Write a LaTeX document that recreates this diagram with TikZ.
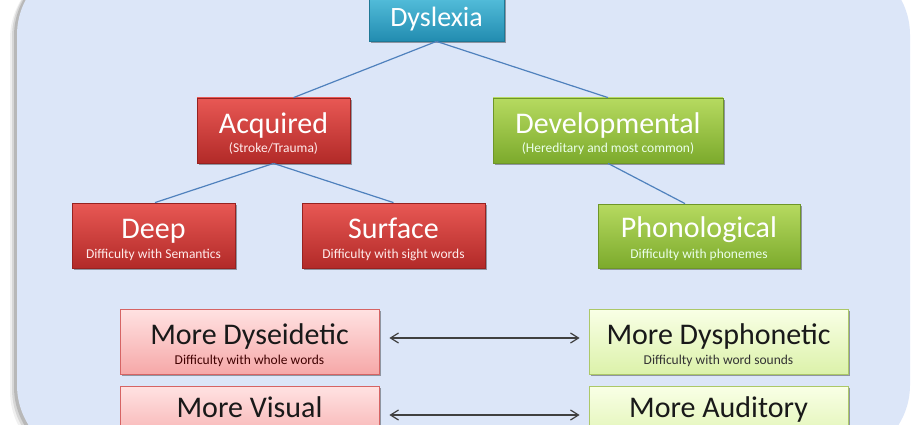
\documentclass[tikz,border=0pt]{standalone}
\usepackage{fontspec}
\setmainfont{Carlito}
\usetikzlibrary{shadows,arrows.meta}
\definecolor{bgblue}{RGB}{220,230,248}
\definecolor{linkblue}{RGB}{79,129,189}
\definecolor{tealtop}{RGB}{92,198,226}
\definecolor{tealmid}{RGB}{52,170,206}
\definecolor{tealbot}{RGB}{34,140,176}
\definecolor{tealedge}{RGB}{30,120,150}
\definecolor{redtop}{RGB}{232,88,84}
\definecolor{redmid}{RGB}{214,62,58}
\definecolor{redbot}{RGB}{178,42,40}
\definecolor{rededge}{RGB}{150,34,32}
\definecolor{grntop}{RGB}{182,218,96}
\definecolor{grnmid}{RGB}{156,200,66}
\definecolor{grnbot}{RGB}{124,170,44}
\definecolor{grnedge}{RGB}{110,150,40}
\definecolor{pinktop}{RGB}{255,226,226}
\definecolor{pinkbot}{RGB}{246,168,168}
\definecolor{pinkedge}{RGB}{214,100,100}
\definecolor{lgtop}{RGB}{249,255,230}
\definecolor{lgbot}{RGB}{220,242,170}
\definecolor{lgedge}{RGB}{172,200,104}
\definecolor{arrowgray}{RGB}{64,64,64}
\tikzset{
  boxbase/.style={rectangle, inner sep=0pt, line width=0.8pt,
    drop shadow={shadow xshift=1.5pt, shadow yshift=-2pt, opacity=0.35, fill=black}},
  tealbox/.style={boxbase, draw=tealedge, top color=tealtop, middle color=tealmid, bottom color=tealbot},
  redbox/.style={boxbase, draw=rededge, top color=redtop, middle color=redmid, bottom color=redbot},
  grnbox/.style={boxbase, draw=grnedge, top color=grntop, middle color=grnmid, bottom color=grnbot},
  pinkbox/.style={boxbase, draw=pinkedge, top color=pinktop, bottom color=pinkbot},
  lgbox/.style={boxbase, draw=lgedge, top color=lgtop, bottom color=lgbot},
  maintxt/.style={inner sep=0pt, anchor=base, font=\fontsize{30}{36}\selectfont},
  subtxt/.style={inner sep=0pt, anchor=base, font=\fontsize{13.5}{16}\selectfont},
  link/.style={draw=linkblue, line width=1.2pt},
  dbl/.style={draw=arrowgray, line width=1.2pt, {Straight Barb[length=8pt,width=10pt]}-{Straight Barb[length=8pt,width=10pt]}}
}
\begin{document}
\begin{tikzpicture}[x=1pt,y=-1pt]
\useasboundingbox (0,0) rectangle (920,425);
\clip (0,0) rectangle (920,425);
\fill[white] (0,0) rectangle (920,425);
% background panel with soft left shadow
\fill[black, opacity=0.06, rounded corners=75pt] (10,-36) rectangle (905,466);
\fill[black, opacity=0.10, rounded corners=75pt] (12,-38) rectangle (906,464);
\fill[black, opacity=0.14, rounded corners=75pt] (14,-39) rectangle (908,462);
\fill[bgblue, rounded corners=75pt] (17,-40) rectangle (910,460);

% boxes
\node[tealbox, minimum width=135pt, minimum height=51pt] (dys) at (436.5,15.5) {};
\node[redbox, minimum width=153pt, minimum height=65pt] (acq) at (273.5,130.5) {};
\node[grnbox, minimum width=230pt, minimum height=65pt] (dev) at (608,130.5) {};
\node[redbox, minimum width=163pt, minimum height=65pt] (deep) at (153.5,235.5) {};
\node[redbox, minimum width=183pt, minimum height=65pt] (surf) at (393.5,235.5) {};
\node[grnbox, minimum width=202pt, minimum height=64pt] (phon) at (699,236) {};
\node[pinkbox, minimum width=259pt, minimum height=65pt] (dyse) at (249.5,341.5) {};
\node[lgbox, minimum width=259pt, minimum height=65pt] (dysp) at (718.5,341.5) {};
\node[pinkbox, minimum width=259pt, minimum height=65pt] (vis) at (249.5,418.5) {};
\node[lgbox, minimum width=259pt, minimum height=65pt] (aud) at (718.5,418.5) {};

% connectors
\draw[link] (dys.south) -- ([xshift=20pt]acq.north);
\draw[link] (dys.south) -- (dev.north);
\draw[link] (acq.south) -- ([xshift=1.5pt]deep.north);
\draw[link] (acq.south) -- (surf.north);
\draw[link] (dev.south) -- ([xshift=-14pt]phon.north);
\draw[dbl, shorten <=10pt, shorten >=9pt] ([yshift=3.5pt]dyse.east) -- ([yshift=3.5pt]dysp.west);
\draw[dbl, shorten <=10pt, shorten >=9pt] ([yshift=3.5pt]vis.east) -- ([yshift=3.5pt]aud.west);

% texts
\node[maintxt, white, font=\fontsize{28}{34}\selectfont] (tdys) at (436.5,27) {Dyslexia};
\node[maintxt, white] (tacq) at (273.5,133) {Acquired};
\node[subtxt, white!92!red] (sacq) at (273.5,152) {(Stroke/Trauma)};
\node[maintxt, white] (tdev) at (608,133) {Developmental};
\node[subtxt, white!92!green] (sdev) at (608,152) {(Hereditary and most common)};
\node[maintxt, white] (tdeep) at (153.5,238) {Deep};
\node[subtxt, white!92!red] (sdeep) at (153.5,258) {Difficulty with Semantics};
\node[maintxt, white] (tsurf) at (393.5,238) {Surface};
\node[subtxt, white!92!red] (ssurf) at (393.5,258) {Difficulty with sight words};
\node[maintxt, white] (tphon) at (699,237) {Phonological};
\node[subtxt, white!92!green] (sphon) at (699,258) {Difficulty with phonemes};
\node[maintxt, black!90] (tdyse) at (249.5,344) {More Dyseidetic};
\node[subtxt, black!75!red] (sdyse) at (249.5,364) {Difficulty with whole words};
\node[maintxt, black!90] (tdysp) at (718.5,344) {More Dysphonetic};
\node[subtxt, black!80] (sdysp) at (718.5,364) {Difficulty with word sounds};
\node[maintxt, black!90] (tvis) at (249.5,417) {More Visual};
\node[maintxt, black!90] (taud) at (718.5,417) {More Auditory};
\end{tikzpicture}
\end{document}
